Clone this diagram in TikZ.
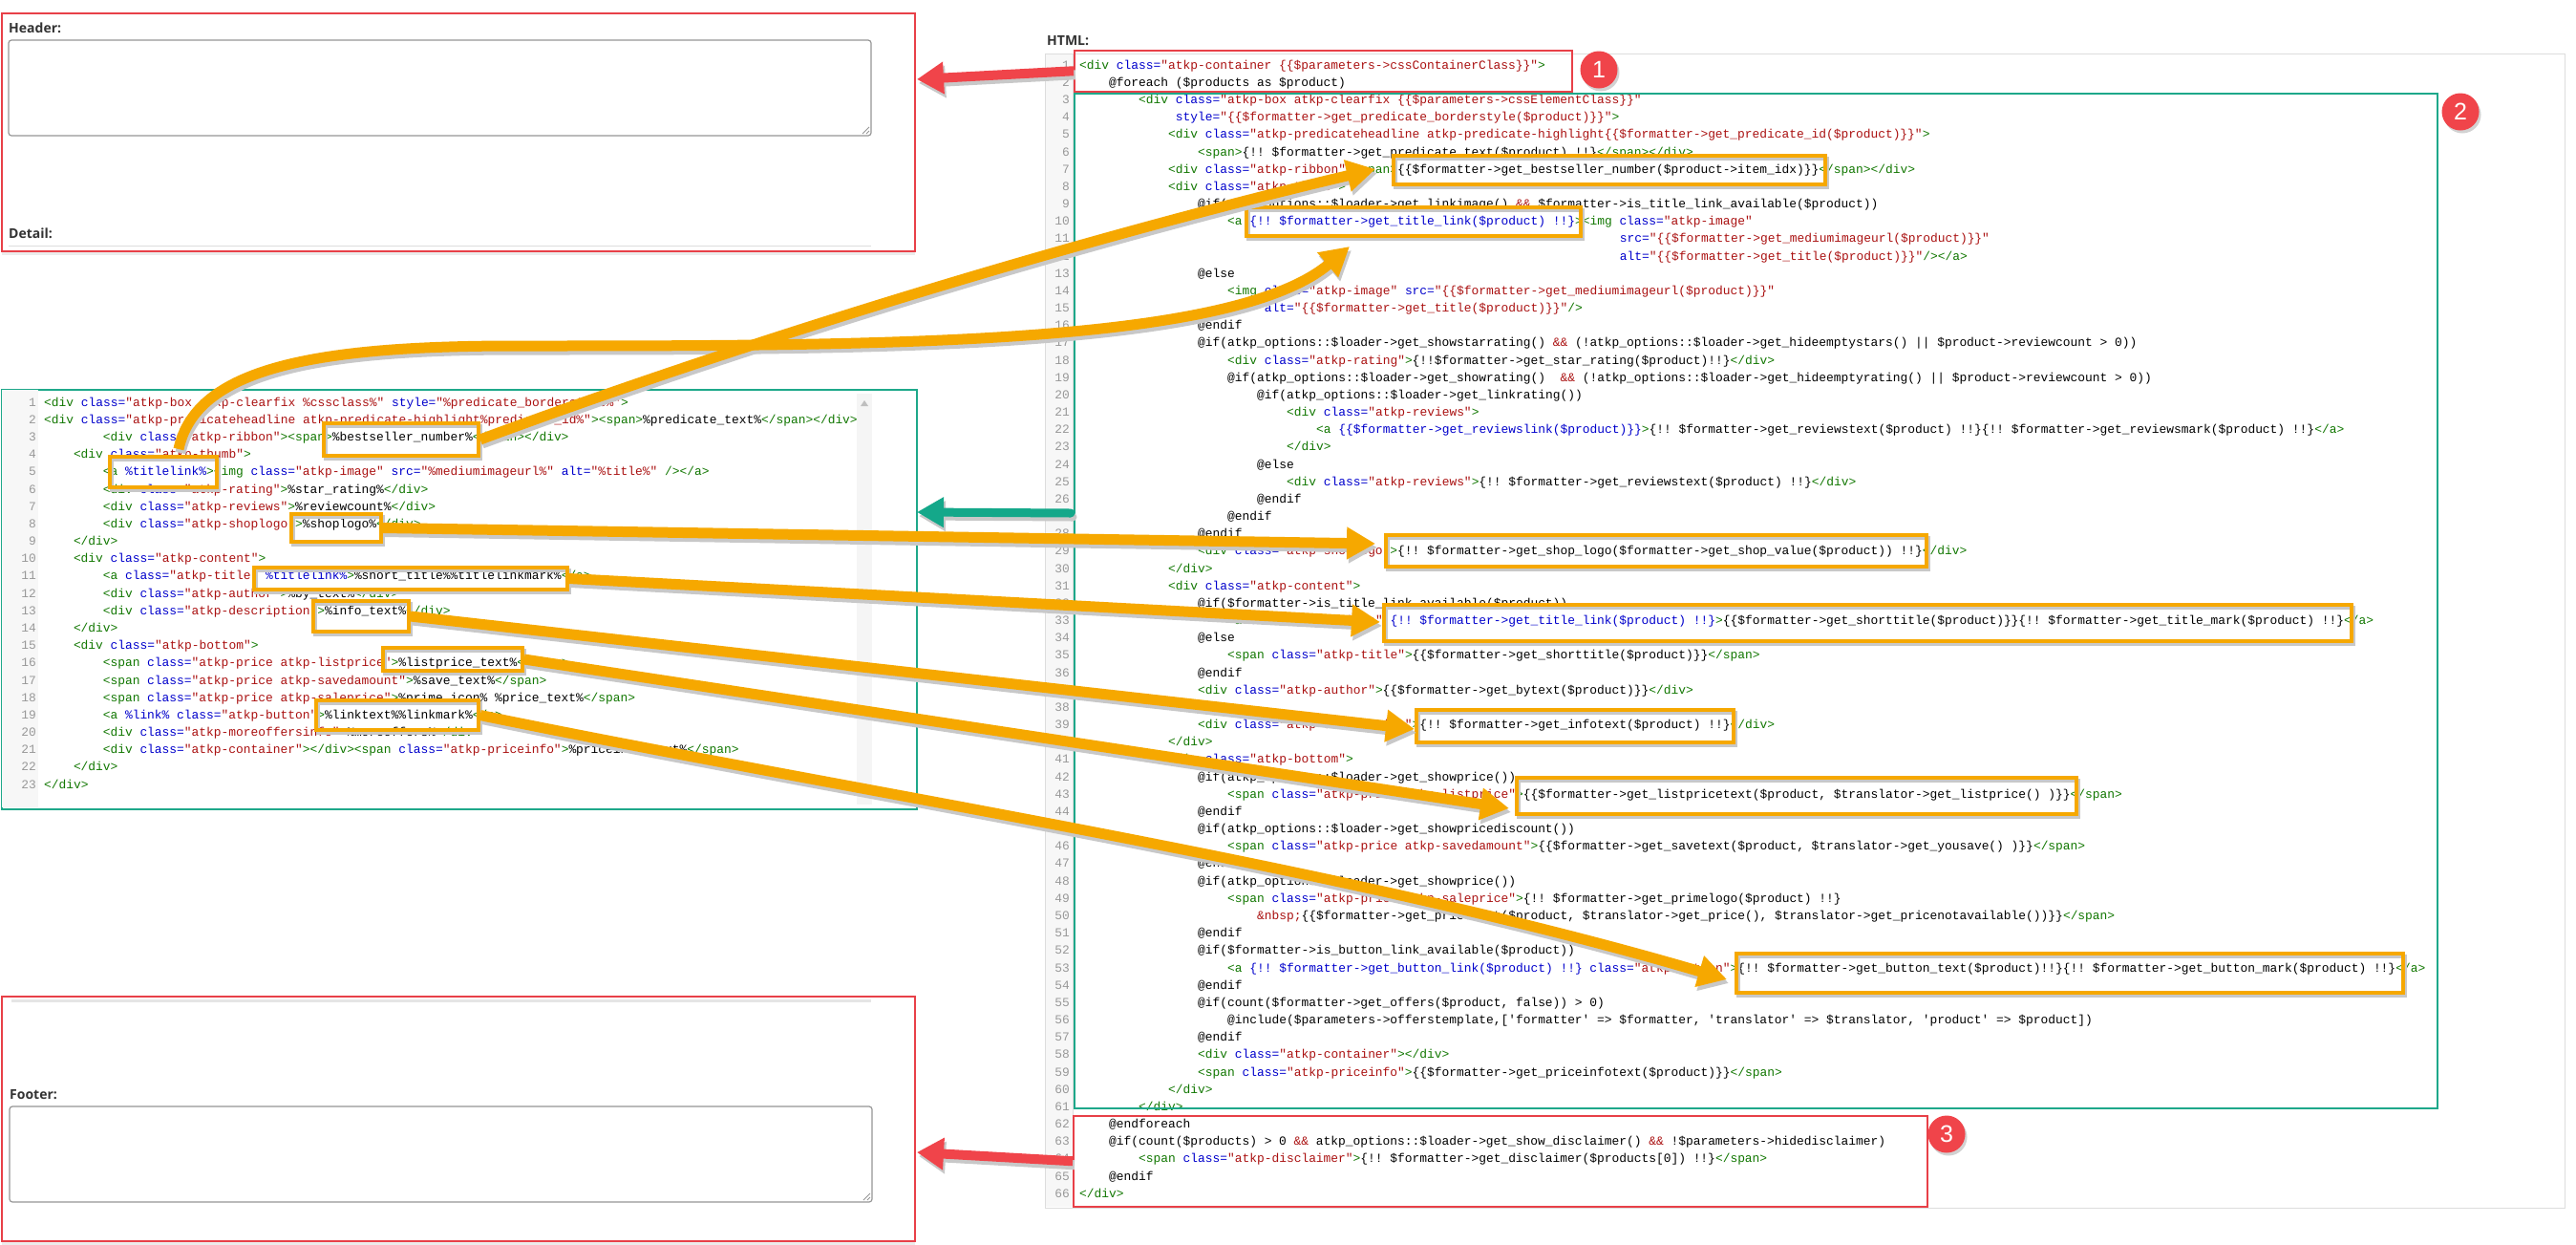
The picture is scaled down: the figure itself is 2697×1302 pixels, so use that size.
\documentclass[tikz,border=0pt]{standalone}
\usepackage{fontspec}
\setmonofont{Liberation Mono}
\newfontfamily\labfont{Open Sans}
\newfontfamily\numfont{Liberation Sans}
\usetikzlibrary{arrows.meta,shadows}
\definecolor{orangec}{RGB}{246,168,0}
\definecolor{redbox}{RGB}{232,64,72}
\definecolor{redar}{RGB}{240,68,74}
\definecolor{tealbox}{RGB}{30,168,138}
\definecolor{tealar}{RGB}{20,168,138}
\definecolor{tagc}{RGB}{17,119,0}
\definecolor{attc}{RGB}{0,0,204}
\definecolor{strc}{RGB}{170,17,17}
\definecolor{lnumc}{RGB}{153,153,153}
\definecolor{labc}{RGB}{51,51,51}
\definecolor{gutc}{RGB}{247,247,247}
\definecolor{framec}{RGB}{221,221,221}
\definecolor{tac}{RGB}{150,150,150}
\definecolor{shadc}{RGB}{200,200,200}
\newcommand\cTag[1]{\textcolor{tagc}{#1}}
\newcommand\cAtt[1]{\textcolor{attc}{#1}}
\newcommand\cStr[1]{\textcolor{strc}{#1}}
\newcommand\rcode[3]{\node[codetxt] (rc#1) at ({1130+7.75*#2},{70+18.17*(#1-1)}) {#3};}
\newcommand\lcode[3]{\node[codetxt] (lc#1) at ({46+7.7*#2},{423+18.18*(#1-1)}) {#3};}
\newcommand\hlb[5]{\node[hl, minimum width=#4pt, minimum height=#5pt] (#1) at (#2,#3) {};}
\tikzset{
 codetxt/.style={anchor=mid west, inner sep=0pt, font=\ttfamily\fontsize{12.9}{15}\selectfont, text=black},
 lnum/.style={anchor=mid east, inner sep=0pt, font=\ttfamily\fontsize{12.9}{15}\selectfont, text=lnumc},
 lab/.style={anchor=mid west, inner sep=0pt, font=\labfont\bfseries\fontsize{14}{16}\selectfont, text=labc},
 hl/.style={draw=orangec, line width=3.5pt, inner sep=0pt, preaction={draw=shadc, line width=3.5pt, transform canvas={shift={(2pt,-3pt)}}}},
 rbox/.style={draw=redbox, line width=1.5pt, inner sep=0pt, anchor=north west},
 tbox/.style={draw=tealbox, line width=1.5pt, inner sep=0pt, anchor=north west},
 oarrow/.style={draw=orangec, line width=11pt, -{Triangle[length=30pt,width=32pt]}},
 oshadow/.style={draw=shadc, line width=11pt, -{Triangle[length=30pt,width=32pt]}, transform canvas={shift={(2pt,-4pt)}}},
 rarrow/.style={draw=redar, line width=10pt, -{Triangle[length=28pt,width=32pt]}},
 rshadow/.style={draw=shadc, line width=10pt, -{Triangle[length=28pt,width=32pt]}, transform canvas={shift={(2pt,-4pt)}}},
 tarrow/.style={draw=tealar, line width=9pt, line cap=round, -{Triangle[length=28pt,width=30pt]}},
 tshadow/.style={draw=shadc, line width=9pt, line cap=round, -{Triangle[length=28pt,width=30pt]}, transform canvas={shift={(2pt,-4pt)}}},
 circ/.style={circle, fill=redar, minimum size=39pt, inner sep=0pt, text=white, font=\numfont\fontsize{25}{25}\selectfont, drop shadow={opacity=0.35, shadow xshift=2pt, shadow yshift=-3pt}},
 tarea/.style={draw=tac, line width=1.2pt, rounded corners=3pt}
}
\begin{document}
\catcode`\_=12 \catcode`\$=12 \catcode`\&=12 \catcode`\%=12
\begin{tikzpicture}[x=1pt,y=-1pt]
\useasboundingbox (0,0) rectangle (2697,1302);
\fill[white] (0,0) rectangle (2697,1302);

\node[rbox, fill=white, minimum width=956pt, minimum height=249pt, drop shadow={opacity=0.15, shadow xshift=0pt, shadow yshift=-4pt}] (hdr) at (1,13) {};
\node[lab] (hdrlab) at (9,32) {Header:};
\draw[tarea] (9,42) rectangle (912,142);
\draw[tac, line width=0.8pt] (903,140) -- (910,133) (907,140) -- (910,137);
\node[lab] (detlab) at (9,247) {Detail:};
\draw[framec, line width=1pt] (9,257) -- (912,257);

\node[rbox, fill=white, minimum width=956pt, minimum height=256pt, drop shadow={opacity=0.15, shadow xshift=0pt, shadow yshift=-4pt}] (ftr) at (1,1042) {};
\draw[gray!20, line width=3pt] (12,1047) -- (912,1047);
\node[lab] (ftrlab) at (10,1148) {Footer:};
\draw[tarea] (10,1158) rectangle (913,1258);
\draw[tac, line width=0.8pt] (904,1256) -- (911,1249) (908,1256) -- (911,1253);

\node[tbox, fill=white, minimum width=958pt, minimum height=439pt] (lbox) at (1,407) {};
\fill[gutc] (2,408) rectangle (40,845);
\fill[gray!8] (897,412) rectangle (913,842);
\fill[gray!50] (901,425) -- (909,425) -- (905,419) -- cycle;
\foreach \i in {1,...,23} \node[lnum] (ln\i) at (38,{423+18.18*(\i-1)}) {\i};

\lcode{1}{0}{\cTag{<div} \cAtt{class=}\cStr{"atkp-box atkp-clearfix %cssclass%"} \cAtt{style=}\cStr{"%predicate_borderstyle%"}\cTag{>}}
\lcode{2}{0}{\cTag{<div} \cAtt{class=}\cStr{"atkp-predicateheadline atkp-predicate-highlight%predicate_id%"}\cTag{><span>}%predicate_text%\cTag{</span></div>}}
\lcode{3}{8}{\cTag{<div} \cAtt{class=}\cStr{"atkp-ribbon"}\cTag{><span>}%bestseller_number%\cTag{</span></div>}}
\lcode{4}{4}{\cTag{<div} \cAtt{class=}\cStr{"atkp-thumb"}\cTag{>}}
\lcode{5}{8}{\cTag{<a} \cAtt{%titlelink%}\cTag{><img} \cAtt{class=}\cStr{"atkp-image"} \cAtt{src=}\cStr{"%mediumimageurl%"} \cAtt{alt=}\cStr{"%title%"} \cTag{/></a>}}
\lcode{6}{8}{\cTag{<div} \cAtt{class=}\cStr{"atkp-rating"}\cTag{>}%star_rating%\cTag{</div>}}
\lcode{7}{8}{\cTag{<div} \cAtt{class=}\cStr{"atkp-reviews"}\cTag{>}%reviewcount%\cTag{</div>}}
\lcode{8}{8}{\cTag{<div} \cAtt{class=}\cStr{"atkp-shoplogo"}\cTag{>}%shoplogo%\cTag{</div>}}
\lcode{9}{4}{\cTag{</div>}}
\lcode{10}{4}{\cTag{<div} \cAtt{class=}\cStr{"atkp-content"}\cTag{>}}
\lcode{11}{8}{\cTag{<a} \cAtt{class=}\cStr{"atkp-title"} \cAtt{%titlelink%}\cTag{>}%short_title%%titlelinkmark%\cTag{</a>}}
\lcode{12}{8}{\cTag{<div} \cAtt{class=}\cStr{"atkp-author"}\cTag{>}%by_text%\cTag{</div>}}
\lcode{13}{8}{\cTag{<div} \cAtt{class=}\cStr{"atkp-description"}\cTag{>}%info_text%\cTag{</div>}}
\lcode{14}{4}{\cTag{</div>}}
\lcode{15}{4}{\cTag{<div} \cAtt{class=}\cStr{"atkp-bottom"}\cTag{>}}
\lcode{16}{8}{\cTag{<span} \cAtt{class=}\cStr{"atkp-price atkp-listprice"}\cTag{>}%listprice_text%\cTag{</span>}}
\lcode{17}{8}{\cTag{<span} \cAtt{class=}\cStr{"atkp-price atkp-savedamount"}\cTag{>}%save_text%\cTag{</span>}}
\lcode{18}{8}{\cTag{<span} \cAtt{class=}\cStr{"atkp-price atkp-saleprice"}\cTag{>}%prime_icon% %price_text%\cTag{</span>}}
\lcode{19}{8}{\cTag{<a} \cAtt{%link% class=}\cStr{"atkp-button"}\cTag{>}%linktext%%linkmark%\cTag{</a>}}
\lcode{20}{8}{\cTag{<div} \cAtt{class=}\cStr{"atkp-moreoffersinfo"}\cTag{>}%moreoffers%\cTag{</div>}}
\lcode{21}{8}{\cTag{<div} \cAtt{class=}\cStr{"atkp-container"}\cTag{></div><span} \cAtt{class=}\cStr{"atkp-priceinfo"}\cTag{>}%priceinfo_text%\cTag{</span>}}
\lcode{22}{4}{\cTag{</div>}}
\lcode{23}{0}{\cTag{</div>}}

\node[lab] (htmllab) at (1096,45) {HTML:};
\node[draw=framec, line width=1pt, inner sep=0pt, anchor=north west, minimum width=1591pt, minimum height=1208pt] (frame) at (1094,56) {};
\fill[gutc] (1095,57) rectangle (1123,1263);
\draw[framec, line width=1pt] (1123,57) -- (1123,1263);
\foreach \i in {1,...,66} \node[lnum] (rn\i) at (1120,{70+18.17*(\i-1)}) {\i};

\rcode{1}{0}{\cTag{<div} \cAtt{class=}\cStr{"atkp-container \{\{$parameters->cssContainerClass\}\}"}\cTag{>}}
\rcode{2}{4}{@foreach ($products as $product)}
\rcode{3}{8}{\cTag{<div} \cAtt{class=}\cStr{"atkp-box atkp-clearfix \{\{$parameters->cssElementClass\}\}"}}
\rcode{4}{13}{\cAtt{style=}\cStr{"\{\{$formatter->get_predicate_borderstyle($product)\}\}"}\cTag{>}}
\rcode{5}{12}{\cTag{<div} \cAtt{class=}\cStr{"atkp-predicateheadline atkp-predicate-highlight\{\{$formatter->get_predicate_id($product)\}\}"}\cTag{>}}
\rcode{6}{16}{\cTag{<span>}\{!! $formatter->get_predicate_text($product) !!\}\cTag{</span></div>}}
\rcode{7}{12}{\cTag{<div} \cAtt{class=}\cStr{"atkp-ribbon"}\cTag{><span>}\{\{$formatter->get_bestseller_number($product->item_idx)\}\}\cTag{</span></div>}}
\rcode{8}{12}{\cTag{<div} \cAtt{class=}\cStr{"atkp-thumb"}\cTag{>}}
\rcode{9}{16}{@if(atkp_options::$loader->get_linkimage() \cStr{&&} $formatter->is_title_link_available($product))}
\rcode{10}{20}{\cTag{<a} \cAtt{\{!! $formatter->get_title_link($product) !!\}}\cTag{><img} \cAtt{class=}\cStr{"atkp-image"}}
\rcode{11}{73}{\cAtt{src=}\cStr{"\{\{$formatter->get_mediumimageurl($product)\}\}"}}
\rcode{12}{73}{\cAtt{alt=}\cStr{"\{\{$formatter->get_title($product)\}\}"}\cTag{/></a>}}
\rcode{13}{16}{@else}
\rcode{14}{20}{\cTag{<img} \cAtt{class=}\cStr{"atkp-image"} \cAtt{src=}\cStr{"\{\{$formatter->get_mediumimageurl($product)\}\}"}}
\rcode{15}{25}{\cAtt{alt=}\cStr{"\{\{$formatter->get_title($product)\}\}"}\cTag{/>}}
\rcode{16}{16}{@endif}
\rcode{17}{16}{@if(atkp_options::$loader->get_showstarrating() \cStr{&&} (!atkp_options::$loader->get_hideemptystars() || $product->reviewcount > 0))}
\rcode{18}{20}{\cTag{<div} \cAtt{class=}\cStr{"atkp-rating"}\cTag{>}\{!!$formatter->get_star_rating($product)!!\}\cTag{</div>}}
\rcode{19}{20}{@if(atkp_options::$loader->get_showrating()~ \cStr{&&} (!atkp_options::$loader->get_hideemptyrating() || $product->reviewcount > 0))}
\rcode{20}{24}{@if(atkp_options::$loader->get_linkrating())}
\rcode{21}{28}{\cTag{<div} \cAtt{class=}\cStr{"atkp-reviews"}\cTag{>}}
\rcode{22}{32}{\cTag{<a} \cAtt{\{\{$formatter->get_reviewslink($product)\}\}}\cTag{>}\{!! $formatter->get_reviewstext($product) !!\}\{!! $formatter->get_reviewsmark($product) !!\}\cTag{</a>}}
\rcode{23}{28}{\cTag{</div>}}
\rcode{24}{24}{@else}
\rcode{25}{28}{\cTag{<div} \cAtt{class=}\cStr{"atkp-reviews"}\cTag{>}\{!! $formatter->get_reviewstext($product) !!\}\cTag{</div>}}
\rcode{26}{24}{@endif}
\rcode{27}{20}{@endif}
\rcode{28}{16}{@endif}
\rcode{29}{16}{\cTag{<div} \cAtt{class=}\cStr{"atkp-shoplogo"}\cTag{>}\{!! $formatter->get_shop_logo($formatter->get_shop_value($product)) !!\}\cTag{</div>}}
\rcode{30}{12}{\cTag{</div>}}
\rcode{31}{12}{\cTag{<div} \cAtt{class=}\cStr{"atkp-content"}\cTag{>}}
\rcode{32}{16}{@if($formatter->is_title_link_available($product))}
\rcode{33}{20}{\cTag{<a} \cAtt{class=}\cStr{"atkp-title"} \cAtt{\{!! $formatter->get_title_link($product) !!\}}\cTag{>}\{\{$formatter->get_shorttitle($product)\}\}\{!! $formatter->get_title_mark($product) !!\}\cTag{</a>}}
\rcode{34}{16}{@else}
\rcode{35}{20}{\cTag{<span} \cAtt{class=}\cStr{"atkp-title"}\cTag{>}\{\{$formatter->get_shorttitle($product)\}\}\cTag{</span>}}
\rcode{36}{16}{@endif}
\rcode{37}{16}{\cTag{<div} \cAtt{class=}\cStr{"atkp-author"}\cTag{>}\{\{$formatter->get_bytext($product)\}\}\cTag{</div>}}
\rcode{39}{16}{\cTag{<div} \cAtt{class=}\cStr{"atkp-description"}\cTag{>}\{!! $formatter->get_infotext($product) !!\}\cTag{</div>}}
\rcode{40}{12}{\cTag{</div>}}
\rcode{41}{12}{\cTag{<div} \cAtt{class=}\cStr{"atkp-bottom"}\cTag{>}}
\rcode{42}{16}{@if(atkp_options::$loader->get_showprice())}
\rcode{43}{20}{\cTag{<span} \cAtt{class=}\cStr{"atkp-price atkp-listprice"}\cTag{>}\{\{$formatter->get_listpricetext($product, $translator->get_listprice() )\}\}\cTag{</span>}}
\rcode{44}{16}{@endif}
\rcode{45}{16}{@if(atkp_options::$loader->get_showpricediscount())}
\rcode{46}{20}{\cTag{<span} \cAtt{class=}\cStr{"atkp-price atkp-savedamount"}\cTag{>}\{\{$formatter->get_savetext($product, $translator->get_yousave() )\}\}\cTag{</span>}}
\rcode{47}{16}{@endif}
\rcode{48}{16}{@if(atkp_options::$loader->get_showprice())}
\rcode{49}{20}{\cTag{<span} \cAtt{class=}\cStr{"atkp-price atkp-saleprice"}\cTag{>}\{!! $formatter->get_primelogo($product) !!\}}
\rcode{50}{24}{\cStr{&nbsp;}\{\{$formatter->get_pricetext($product, $translator->get_price(), $translator->get_pricenotavailable())\}\}\cTag{</span>}}
\rcode{51}{16}{@endif}
\rcode{52}{16}{@if($formatter->is_button_link_available($product))}
\rcode{53}{20}{\cTag{<a} \cAtt{\{!! $formatter->get_button_link($product) !!\} class=}\cStr{"atkp-button"}\cTag{>}\{!! $formatter->get_button_text($product)!!\}\{!! $formatter->get_button_mark($product) !!\}\cTag{</a>}}
\rcode{54}{16}{@endif}
\rcode{55}{16}{@if(count($formatter->get_offers($product, false)) > 0)}
\rcode{56}{20}{@include($parameters->offerstemplate,['formatter' => $formatter, 'translator' => $translator, 'product' => $product])}
\rcode{57}{16}{@endif}
\rcode{58}{16}{\cTag{<div} \cAtt{class=}\cStr{"atkp-container"}\cTag{></div>}}
\rcode{59}{16}{\cTag{<span} \cAtt{class=}\cStr{"atkp-priceinfo"}\cTag{>}\{\{$formatter->get_priceinfotext($product)\}\}\cTag{</span>}}
\rcode{60}{12}{\cTag{</div>}}
\rcode{61}{8}{\cTag{</div>}}
\rcode{62}{4}{@endforeach}
\rcode{63}{4}{@if(count($products) > 0 \cStr{&&} atkp_options::$loader->get_show_disclaimer() \cStr{&&} !$parameters->hidedisclaimer)}
\rcode{64}{8}{\cTag{<span} \cAtt{class=}\cStr{"atkp-disclaimer"}\cTag{>}\{!! $formatter->get_disclaimer($products[0]) !!\}\cTag{</span>}}
\rcode{65}{4}{@endif}
\rcode{66}{0}{\cTag{</div>}}

\node[tbox, minimum width=1427pt, minimum height=1062pt] (b2) at (1124,97) {};
\node[rbox, minimum width=521pt, minimum height=43pt] (b1) at (1124,52) {};
\node[rbox, minimum width=894pt, minimum height=95pt] (b3) at (1123,1167) {};

\hlb{A}{1685}{178}{452}{30}
\hlb{B}{1480}{232}{350}{30}
\hlb{C}{1734}{576.5}{566}{33}
\hlb{D}{1955.5}{652}{1013}{38}
\hlb{E}{1649}{760}{332}{34}
\hlb{F}{1881}{833}{586}{38}
\hlb{G}{2167}{1018.5}{698}{41}
\hlb{L1}{420}{460}{162}{34}
\hlb{L2}{171}{494}{112}{32}
\hlb{L3}{352}{552.5}{94}{29}
\hlb{L4}{430}{605.5}{328}{23}
\hlb{L5}{378}{645}{100}{32}
\hlb{L6}{474}{690}{146}{24}
\hlb{L7}{416}{748.5}{170}{31}

\coordinate (tA) at (1440,177);
\coordinate (s2) at (187,470);
\coordinate (m2) at (540,362);
\coordinate (tB) at (1413,258);
\coordinate (tC) at (1440,569);
\coordinate (tD) at (1445,651);
\coordinate (tE) at (1481,763);
\coordinate (tF) at (1580,846);
\coordinate (tG) at (1808,1025);
\coordinate (hT) at (960,83);
\coordinate (fT) at (960,1206);
\coordinate (tS) at (1121,537);
\coordinate (tT) at (960,536);

\draw[oshadow] (L1.east) .. controls (800,350) and (1150,245) .. (tA);
\draw[oshadow] (s2) .. controls (205,385) and (330,362) .. (m2) .. controls (920,362) and (1290,362) .. (tB);
\draw[oshadow] (L3.east) -- (tC);
\draw[oshadow] (L4.east) -- (tD);
\draw[oshadow] (L5.east) -- (tE);
\draw[oshadow] (L6.east) -- (tF);
\draw[oshadow] (L7.east) .. controls (900,830) and (1400,905) .. (tG);
\draw[rshadow] (b1.west) -- (hT);
\draw[rshadow] (b3.west) -- (fT);
\draw[tshadow] (tS) -- (tT);

\draw[oarrow] (L1.east) .. controls (800,350) and (1150,245) .. (tA);
\draw[oarrow] (s2) .. controls (205,385) and (330,362) .. (m2) .. controls (920,362) and (1290,362) .. (tB);
\draw[oarrow] (L3.east) -- (tC);
\draw[oarrow] (L4.east) -- (tD);
\draw[oarrow] (L5.east) -- (tE);
\draw[oarrow] (L6.east) -- (tF);
\draw[oarrow] (L7.east) .. controls (900,830) and (1400,905) .. (tG);

\draw[rarrow] (b1.west) -- (hT);
\draw[rarrow] (b3.west) -- (fT);
\draw[tarrow] (tS) -- (tT);

\node[circ] (n1) at (1674,73) {1};
\node[circ] (n2) at (2576,117) {2};
\node[circ] (n3) at (2038,1187) {3};
\end{tikzpicture}
\end{document}
